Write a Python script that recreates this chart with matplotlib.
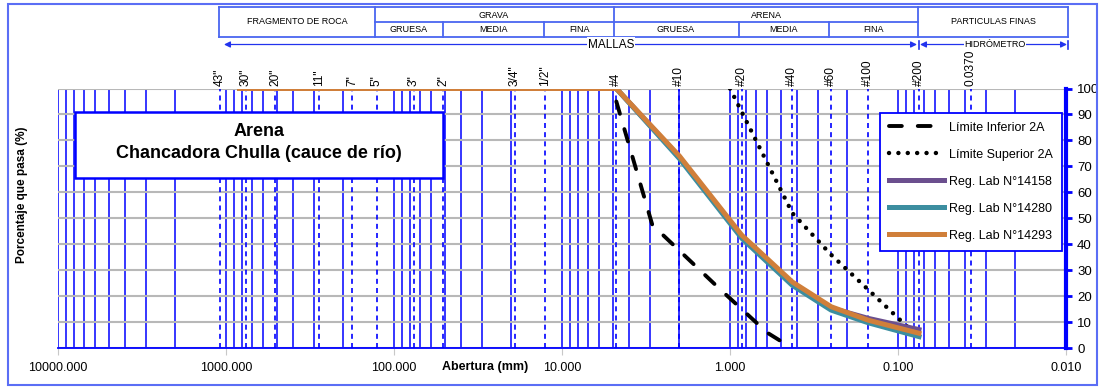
"""Curva granulométrica: arena de Chancadora Chulla frente a la faja 2A."""
import matplotlib

matplotlib.use("Agg")
import matplotlib.pyplot as plt
from matplotlib.lines import Line2D
from matplotlib.patches import Rectangle
from matplotlib.ticker import FixedLocator, FuncFormatter, LogLocator, MultipleLocator, NullFormatter

plt.rcParams["font.family"] = ["Liberation Sans", "DejaVu Sans"]

# Tamices de referencia (mm) y sus rótulos
sieve_labels = ['43"', '30"', '20"', '11"', '7"', '5"', '3"', '2"', '3/4"', '1/2"',
                "#4", "#10", "#20", "#40", "#60", "#100", "#200", "0.0370"]
sieve_mm = [1092.2, 762.0, 508.0, 279.4, 177.8, 127.0, 76.2, 50.8, 19.05, 12.7,
            4.75, 2.0, 0.85, 0.425, 0.25, 0.15, 0.075, 0.037]

# Aberturas rotuladas en el eje inferior (mm)
x_ticks = [10000, 1000, 100, 10, 1, 0.1, 0.01]

# Ensayos de laboratorio (% que pasa)
lab_mm = [830.0, 4.75, 2.0, 0.85, 0.425, 0.25, 0.15, 0.075]
lab_14158 = [100, 100, 73.5, 43.0, 25.0, 15.5, 11.5, 7.2]
lab_14280 = [100, 100, 73.0, 42.3, 24.2, 14.7, 9.8, 4.5]
lab_14293 = [100, 100, 74.0, 43.5, 25.5, 16.0, 10.8, 5.8]

# Faja 2A
lower_mm = [4.75, 2.9, 1.18, 0.6, 0.425]
lower_pct = [95, 47.5, 23.5, 6, 0]
upper_mm = [1.0, 0.425, 0.25, 0.15, 0.075]
upper_pct = [100, 52, 36, 22.5, 4]

BLUE = "#0000FF"
FRAME = "#4A66F0"
W, H = 1102, 387


def fx(x):
    return x / W


def fy(y):
    return 1 - y / H


def fig_line(fig, x0, y0, x1, y1, color=FRAME, lw=1.3):
    fig.add_artist(Line2D([fx(x0), fx(x1)], [fy(y0), fy(y1)],
                          transform=fig.transFigure, color=color, lw=lw))


fig = plt.figure(figsize=(W / 100, H / 100), dpi=100)
ax = fig.add_axes([fx(58), fy(348.3), (1066 - 58) / W, (348.3 - 88.5) / H])
ax.set_xscale("log")
ax.set_xlim(10000, 0.01)
ax.set_ylim(0, 100)

# retícula logarítmica azul y horizontales grises
ax.xaxis.set_major_locator(FixedLocator(x_ticks))
ax.xaxis.set_minor_locator(LogLocator(base=10, subs=range(2, 10), numticks=100))
ax.xaxis.set_minor_formatter(NullFormatter())
ax.xaxis.set_major_formatter(FuncFormatter(lambda v, p: f"{v:.3f}"))
ax.yaxis.set_major_locator(MultipleLocator(10))
ax.set_axisbelow(True)
ax.grid(which="both", axis="x", color=BLUE, lw=1.1)
ax.grid(which="major", axis="y", color="#B8B8B8", lw=1.5)
for s in sieve_mm:
    ax.axvline(s, color=BLUE, lw=1.2, ls=(0, (3, 2.5)), zorder=1)

ax.tick_params(axis="x", which="major", length=5, color="#C8C8C8", pad=5, labelsize=9)
ax.tick_params(axis="x", which="minor", length=0)
ax.yaxis.tick_right()
ax.tick_params(axis="y", length=4, width=2, color=BLUE, labelsize=9.5, pad=4)
for side in ("top", "left"):
    ax.spines[side].set_visible(False)
ax.spines["right"].set_color(BLUE)
ax.spines["right"].set_linewidth(3)
ax.spines["bottom"].set_color(BLUE)
ax.spines["bottom"].set_linewidth(1.3)

for s, lab in zip(sieve_mm, sieve_labels):
    ax.annotate(lab, xy=(s, 1), xycoords=("data", "axes fraction"), xytext=(0, 1.5),
                textcoords="offset points", rotation=90, ha="center", va="bottom",
                fontsize=8.6, annotation_clip=False)

# límites de la faja y curvas de laboratorio
ax.plot(lower_mm, lower_pct, color="black", lw=2.8, ls=(0, (3.3, 4.1)),
        dash_capstyle="round", zorder=3, label="Límite Inferior 2A")
ax.plot(upper_mm, upper_pct, color="black", lw=3.2, ls=(0, (0.01, 2.1)),
        dash_capstyle="round", zorder=3, label="Límite Superior 2A")
ax.plot(lab_mm, lab_14158, color="#6B4F8E", lw=3.6, zorder=4, label="Reg. Lab N°14158")
ax.plot(lab_mm, lab_14280, color="#3C8EA0", lw=3.6, zorder=5, label="Reg. Lab N°14280")
ax.plot(lab_mm, lab_14293, color="#D07F3A", lw=3.6, zorder=6, label="Reg. Lab N°14293")

leg = ax.legend(loc="upper right", bbox_to_anchor=(fx(1062), fy(113)),
                bbox_transform=fig.transFigure, borderaxespad=0, fancybox=False,
                framealpha=1, edgecolor=BLUE, handlelength=4.4, labelspacing=1.2,
                fontsize=9, borderpad=0.7, handletextpad=0.45)
leg.get_frame().set_linewidth(1.3)
leg.set_zorder(10)

# recuadro con el nombre de la muestra
fig.add_artist(Rectangle((fx(75), fy(178)), (443 - 75) / W, (178 - 112) / H,
                         transform=fig.transFigure, facecolor="white",
                         edgecolor=BLUE, lw=1.8, zorder=3))
fig.text(fx(259), fy(131), "Arena", ha="center", va="center", fontsize=13,
         fontweight="bold", zorder=4)
fig.text(fx(259), fy(153), "Chancadora Chulla (cauce de río)", ha="center",
         va="center", fontsize=13, fontweight="bold", zorder=4)

fig.text(fx(22), fy(195), "Porcentaje que pasa (%)", rotation=90, ha="center",
         va="center", fontsize=8.5, fontweight="bold")
fig.text(fx(485), fy(367), "Abertura (mm)", ha="center", va="center", fontsize=9,
         fontweight="bold")

# tabla de clasificación superior
fig_line(fig, 219, 7, 1068, 7)
fig_line(fig, 219, 37, 1068, 37)
fig_line(fig, 375, 22, 918, 22)
for xv in (219, 375, 614, 918, 1068):
    fig_line(fig, xv, 7, xv, 37)
for xv in (443, 544, 739, 829):
    fig_line(fig, xv, 22, xv, 37)
cells = [("FRAGMENTO DE ROCA", 297, 22), ("GRAVA", 494, 15), ("GRUESA", 409, 29.5),
         ("MEDIA", 493, 29.5), ("FINA", 579, 29.5), ("ARENA", 766, 15),
         ("GRUESA", 676, 29.5), ("MEDIA", 784, 29.5), ("FINA", 873, 29.5),
         ("PARTICULAS FINAS", 993, 22)]
for txt, xc, yc in cells:
    fig.text(fx(xc), fy(yc), txt, ha="center", va="center", fontsize=6.5)

# flechas de mallas e hidrómetro
ya = 44.5
arrow = dict(arrowstyle="<|-|>", color="#2233EE", lw=0.9, mutation_scale=9,
             shrinkA=0, shrinkB=0)
ax.annotate("", xy=(224, H - ya), xytext=(917, H - ya), xycoords="figure pixels",
            arrowprops=arrow, annotation_clip=False)
ax.annotate("", xy=(920, H - ya), xytext=(1067, H - ya), xycoords="figure pixels",
            arrowprops=arrow, annotation_clip=False)
fig_line(fig, 918.5, ya - 4, 918.5, ya + 4, color="#2233EE", lw=1.2)
fig_line(fig, 1068, ya - 4, 1068, ya + 4, color="#2233EE", lw=1.2)
fig.text(fx(611), fy(ya), "MALLAS", ha="center", va="center", fontsize=8.5,
         zorder=5, bbox=dict(facecolor="white", edgecolor="none", pad=0.8))
fig.text(fx(995), fy(ya), "HIDRÓMETRO", ha="center", va="center", fontsize=6.5,
         zorder=5, bbox=dict(facecolor="white", edgecolor="none", pad=0.2))

# marco exterior
fig.add_artist(Rectangle((fx(8), fy(385)), (1097 - 8) / W, (385 - 4) / H,
                         transform=fig.transFigure, fill=False, edgecolor="#5B6EF5",
                         lw=1.5))

fig.savefig("out.png", dpi=100)
plt.close(fig)
